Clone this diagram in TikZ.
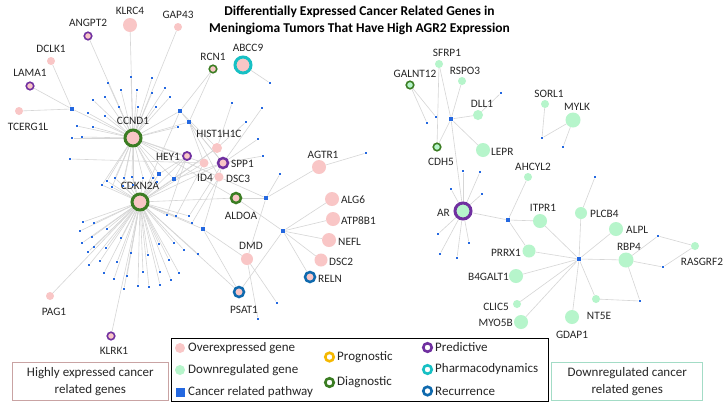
\documentclass[tikz,border=0pt]{standalone}
\usepackage{fontspec}
\setmainfont{Carlito}
\usetikzlibrary{backgrounds}
\definecolor{pinkc}{HTML}{F9C6C6}
\definecolor{greenc}{HTML}{B6F5CB}
\definecolor{bluec}{HTML}{2468E0}
\definecolor{ringg}{HTML}{3B7D23}
\definecolor{ringp}{HTML}{7030A0}
\definecolor{ringc}{HTML}{17C0C4}
\definecolor{ringb}{HTML}{0F6AAE}
\definecolor{ringy}{HTML}{F5B800}
\definecolor{edgec}{HTML}{D6D6D6}
\definecolor{txt}{HTML}{262626}
\definecolor{lboxc}{HTML}{C9A3A3}
\definecolor{rboxc}{HTML}{A3DCC6}
\begin{document}
\begin{tikzpicture}[x=1pt,y=-1pt,
  pk/.style={circle,fill=pinkc,inner sep=0pt,minimum size=#1},
  gn/.style={circle,fill=greenc,inner sep=0pt,minimum size=#1},
  rg/.style={draw=#1},
  bigring/.style={line width=3pt,minimum size=16pt},
  midring/.style={line width=2.5pt,minimum size=10pt},
  smallring/.style={line width=1.6pt,minimum size=7.5pt},
  dt/.style={rectangle,fill=bluec,inner sep=0pt,minimum size=2.8pt},
  hb/.style={rectangle,fill=bluec,inner sep=0pt,minimum size=4.6pt},
  lab/.style={font=\fontsize{11.3}{13}\selectfont,text=txt,inner sep=0pt},
  leg/.style={font=\fontsize{13}{15}\selectfont,text=txt,inner sep=0pt,anchor=west},
  edge/.style={draw=edgec,line width=0.6pt},
]
\useasboundingbox (0,0) rectangle (727,405);

% title
\node[font=\bfseries\fontsize{13.5}{17}\selectfont,align=center,text=black] (title) at (359.5,20.5)
  {Differentially Expressed Cancer Related Genes in\\Meningioma Tumors That Have High AGR2 Expression};

% ---------------- left cluster genes
\node[pk=16pt,rg=ringg,bigring] (ccnd1) at (133,138) {};
\node[lab] (lccnd1) at (133,121) {CCND1};
\node[pk=16pt,rg=ringg,bigring] (cdkn2a) at (140,202) {};
\node[lab] (lcdkn2a) at (140,186) {CDKN2A};
\node[pk=14pt] (klrc4) at (130,25) {};
\node[lab] (lklrc4) at (130,11) {KLRC4};
\node[pk=8pt] (gap43) at (178,27) {};
\node[lab] (lgap43) at (178,15) {GAP43};
\node[pk=7.5pt,rg=ringp,smallring] (angpt2) at (88,36) {};
\node[lab] (langpt2) at (88,23) {ANGPT2};
\node[pk=8pt] (dclk1) at (51,61) {};
\node[lab] (ldclk1) at (51,49) {DCLK1};
\node[pk=7.5pt,rg=ringp,smallring] (lama1) at (30,86) {};
\node[lab] (llama1) at (30,73) {LAMA1};
\node[pk=8pt] (tcerg1l) at (19,111) {};
\node[lab] (ltcerg1l) at (28,127) {TCERG1L};
\node[pk=7.5pt,rg=ringg,smallring] (rcn1) at (213,69) {};
\node[lab] (lrcn1) at (213,57) {RCN1};
\node[pk=16pt,rg=ringc,bigring] (abcc9) at (243,65) {};
\node[lab] (labcc9) at (248,48) {ABCC9};
\node[pk=10pt] (hist) at (217,148) {};
\node[lab] (lhist) at (219,134) {HIST1H1C};
\node[pk=8pt,rg=ringp,line width=1.8pt] (hey1) at (187,156) {};
\node[lab,anchor=east] (lhey1) at (180,157) {HEY1};
\node[pk=9pt] (id4) at (204,163) {};
\node[lab] (lid4) at (205,178) {ID4};
\node[pk=10pt,rg=ringp,midring] (spp1) at (223,163) {};
\node[lab,anchor=west] (lspp1) at (231,164) {SPP1};
\node[pk=9pt] (dsc3) at (219,177) {};
\node[lab,anchor=west] (ldsc3) at (226,179) {DSC3};
\node[pk=10pt,rg=ringg,midring] (aldoa) at (236,198) {};
\node[lab] (laldoa) at (241,216) {ALDOA};
\node[pk=14pt] (agtr1) at (319,167) {};
\node[lab] (lagtr1) at (323,155) {AGTR1};
\node[pk=14pt] (alg6) at (332,199) {};
\node[lab,anchor=west] (lalg6) at (341,200) {ALG6};
\node[pk=14pt] (atp8b1) at (333,219) {};
\node[lab,anchor=west] (latp8b1) at (341,221) {ATP8B1};
\node[pk=14pt] (nefl) at (329,240) {};
\node[lab,anchor=west] (lnefl) at (338,242) {NEFL};
\node[pk=13pt] (dsc2) at (321,260) {};
\node[lab,anchor=west] (ldsc2) at (329,262) {DSC2};
\node[pk=10pt,rg=ringb,midring] (reln) at (310,277) {};
\node[lab,anchor=west] (lreln) at (318,279) {RELN};
\node[pk=12pt] (dmd) at (247,259) {};
\node[lab] (ldmd) at (251,246) {DMD};
\node[pk=10pt,rg=ringb,midring] (psat1) at (239,292) {};
\node[lab] (lpsat1) at (244,310) {PSAT1};
\node[pk=8pt] (pag1) at (50,296) {};
\node[lab] (lpag1) at (54,312) {PAG1};
\node[pk=7.5pt,rg=ringp,smallring] (klrk1) at (111,336) {};
\node[lab] (lklrk1) at (114,351) {KLRK1};

% hubs left
\node[hb] (hA) at (72,109) {};
\node[hb] (hB) at (180,111) {};
\node[hb] (hC) at (189,122) {};
\node[hb] (hD) at (174,179) {};
\node[hb] (hE) at (159,174) {};
\node[hb] (hF) at (203,229) {};
\node[hb] (hG) at (266,198) {};
\node[hb] (hH) at (283,231) {};

% small pathway dots left
\foreach \x/\y [count=\i] in {131/77,152/78,108/83,121/90,137/90,165/88,152/93,105/97,93/100,170/97,138/107,119/107,156/107,88/113,105/116,77/126,93/127,178/127,72/138,82/137}
  \node[dt] (c\i) at (\x,\y) {};
\foreach \x/\y [count=\i] in {102/185,107/181,115/178,124/178,132/177,143/178,153/178,157/182,112/187,123/186,133/185}
  \node[dt] (m\i) at (\x,\y) {};
\foreach \x/\y [count=\i] in {83/222,94/223,80/231,107/229,92/237,121/238,82/243,94/247,106/248,88/252,131/253,148/255,159/244,174/243,184/250,198/254,100/261,117/262,169/260,89/265,104/273,114/279,127/276,124/289,138/286,143/272,149/287,160/285,160/272,171/280,179/273}
  \node[dt] (k\i) at (\x,\y) {};
\node[dt] (u1) at (167,215) {};
\node[dt] (u2) at (176,216) {};
\node[dt] (u3) at (189,216) {};
\node[dt] (u4) at (192,223) {};
\node[dt] (x1) at (70,159) {};
\node[dt] (s1) at (232,103) {};
\node[dt] (s2) at (262,108) {};
\node[dt] (s3) at (246,122) {};
\node[dt] (s4) at (258,139) {};
\node[dt] (s5) at (263,156) {};
\node[dt] (s6) at (280,174) {};
\node[dt] (s7) at (270,83) {};
\node[dt] (s8) at (366,153) {};
\node[dt] (d1) at (277,303) {};
\node[dt] (d2) at (258,319) {};

% ---------------- right cluster genes
\node[gn=8pt] (sfrp1) at (439,64) {};
\node[lab] (lsfrp1) at (447,53) {SFRP1};
\node[gn=8pt] (rspo3) at (462,81) {};
\node[lab] (lrspo3) at (465,71) {RSPO3};
\node[gn=7.5pt,rg=ringg,smallring] (galnt12) at (410,85) {};
\node[lab] (lgalnt12) at (415,74) {GALNT12};
\node[gn=10pt] (dll1) at (478,115) {};
\node[lab] (ldll1) at (482,104) {DLL1};
\node[gn=7.5pt,rg=ringg,smallring] (cdh5) at (437,147) {};
\node[lab] (lcdh5) at (441,162) {CDH5};
\node[gn=14pt] (lepr) at (483,150) {};
\node[lab,anchor=west] (llepr) at (491,152) {LEPR};
\node[gn=8pt] (sorl1) at (545,104) {};
\node[lab] (lsorl1) at (549,94) {SORL1};
\node[gn=15pt] (mylk) at (573,120) {};
\node[lab] (lmylk) at (577,107) {MYLK};
\node[gn=8pt] (ahcyl2) at (528,177) {};
\node[lab] (lahcyl2) at (533,167) {AHCYL2};
\node[gn=15pt,rg=ringp,bigring] (ar) at (463,211) {};
\node[lab,anchor=east] (lar) at (450,213) {AR};
\node[gn=14pt] (itpr1) at (540,221) {};
\node[lab] (litpr1) at (543,208) {ITPR1};
\node[gn=12pt] (plcb4) at (581,213) {};
\node[lab,anchor=west] (lplcb4) at (590,214) {PLCB4};
\node[gn=14pt] (alpl) at (616,229) {};
\node[lab,anchor=west] (lalpl) at (626,230) {ALPL};
\node[gn=15pt] (rbp4) at (626,260) {};
\node[lab] (lrbp4) at (629,247) {RBP4};
\node[gn=8pt] (rasgrf2) at (695,246) {};
\node[lab] (lrasgrf2) at (702,262) {RASGRF2};
\node[gn=13pt] (prrx1) at (529,251) {};
\node[lab,anchor=east] (lprrx1) at (521,253) {PRRX1};
\node[gn=14pt] (b4galt1) at (516,276) {};
\node[lab,anchor=east] (lb4galt1) at (509,277) {B4GALT1};
\node[gn=8pt] (clic5) at (517,304) {};
\node[lab,anchor=east] (lclic5) at (509,307) {CLIC5};
\node[gn=14pt] (myo5b) at (521,322) {};
\node[lab,anchor=east] (lmyo5b) at (513,323) {MYO5B};
\node[gn=14pt] (gdap1) at (572,317) {};
\node[lab] (lgdap1) at (572,335) {GDAP1};
\node[gn=8pt] (nt5e) at (596,299) {};
\node[lab] (lnt5e) at (599,316) {NT5E};

\node[hb] (r1) at (451,119) {};
\node[hb] (r2) at (508,220) {};
\node[hb] (r3) at (579,259) {};
\foreach \x/\y [count=\i] in {463/171,480/172,451/189,482/194,438/234,469/243,440/254,457/258}
  \node[dt] (a\i) at (\x,\y) {};
\node[dt] (g1) at (436,117) {};
\node[dt] (g2) at (427,123) {};
\node[dt] (g3) at (501,93) {};
\node[dt] (g4) at (542,138) {};
\node[dt] (g5) at (563,147) {};
\node[dt] (g6) at (595,177) {};
\node[dt] (g7) at (658,236) {};
\node[dt] (g8) at (663,267) {};
\node[dt] (g9) at (640,301) {};

% ---------------- edges
\begin{scope}[on background layer]
\fill[white] (0,0) rectangle (727,405);
\foreach \i in {1,...,20} \draw[edge] (ccnd1) -- (c\i);
\foreach \i in {1,...,11} {\draw[edge] (ccnd1) -- (m\i); \draw[edge] (cdkn2a) -- (m\i);}
\foreach \i in {1,...,31} \draw[edge] (cdkn2a) -- (k\i);
\foreach \i in {1,...,4} \draw[edge] (cdkn2a) -- (u\i);
\draw[edge] (u1) -- (hey1); \draw[edge] (u2) -- (id4); \draw[edge] (u3) -- (spp1); \draw[edge] (u4) -- (dsc3);
\foreach \n in {dclk1,lama1,tcerg1l,ccnd1} \draw[edge] (hA) -- (\n);
\foreach \n in {klrc4,gap43,angpt2} \draw[edge] (ccnd1) -- (\n);
\draw[edge] (rcn1) -- (hB); \draw[edge] (rcn1) -- (hC);
\foreach \n in {ccnd1,spp1,hist,cdkn2a} \draw[edge] (hB) -- (\n);
\foreach \n in {ccnd1,id4,dsc3,spp1} \draw[edge] (hC) -- (\n);
\foreach \n in {ccnd1,cdkn2a,hey1,spp1,hist} \draw[edge] (hD) -- (\n);
\foreach \n in {ccnd1,cdkn2a,hey1} \draw[edge] (hE) -- (\n);
\foreach \n in {cdkn2a,dmd,spp1,psat1} \draw[edge] (hF) -- (\n);
\foreach \n in {aldoa,agtr1,s6,dmd,dsc3} \draw[edge] (hG) -- (\n);
\foreach \n in {alg6,atp8b1,nefl,dsc2,reln,psat1,aldoa} \draw[edge] (hH) -- (\n);
\draw[edge] (agtr1) -- (s8);
\foreach \n in {hey1,id4,aldoa,dsc3} \draw[edge] (ccnd1) -- (\n);
\foreach \n in {hey1,spp1,id4,hist,aldoa,psat1,pag1,klrk1} \draw[edge] (cdkn2a) -- (\n);
\draw[edge] (dmd) -- (d1); \draw[edge] (dmd) -- (d2);
\draw[edge] (x1) -- (id4);
\draw[edge] (s1) -- (hist); \draw[edge] (s3) -- (hist);
\draw[edge] (s2) -- (spp1); \draw[edge] (s4) -- (spp1); \draw[edge] (s5) -- (spp1);
\draw[edge] (s7) -- (abcc9);
% right
\foreach \n in {sfrp1,rspo3,dll1,cdh5,lepr,ar} \draw[edge] (r1) -- (\n);
\draw[edge] (sfrp1) -- (cdh5);
\draw[edge] (galnt12) -- (g1); \draw[edge] (galnt12) -- (g2);
\draw[edge] (dll1) -- (g3);
\draw[edge] (sorl1) -- (g4); \draw[edge] (mylk) -- (g4); \draw[edge] (mylk) -- (g5);
\foreach \i in {1,...,8} \draw[edge] (ar) -- (a\i);
\draw[edge] (ar) -- (r2);
\foreach \n in {ahcyl2,itpr1,prrx1} \draw[edge] (r2) -- (\n);
\foreach \n in {itpr1,plcb4,alpl,rbp4,prrx1,b4galt1,clic5,myo5b,gdap1,nt5e} \draw[edge] (r3) -- (\n);
\draw[edge] (plcb4) -- (g6);
\draw[edge] (rbp4) -- (g7); \draw[edge] (rbp4) -- (g8); \draw[edge] (rbp4) -- (g9);
\draw[edge] (nt5e) -- (g9);
\draw[edge] (rasgrf2) -- (g7); \draw[edge] (rasgrf2) -- (g8);
\end{scope}

% ---------------- legend
\node[draw=black,line width=1pt,fill=white,minimum width=377pt,minimum height=63pt,inner sep=0pt] (legend) at (360.3,370) {};
\node[pk=10pt] (lgpk) at (180,348) {};
\node[leg] (tpk) at (188,348) {Overexpressed gene};
\node[gn=10pt] (lggn) at (180,370) {};
\node[leg] (tgn) at (188,370) {Downregulated gene};
\node[rectangle,fill=bluec,minimum size=9pt,inner sep=0pt] (lgpw) at (180,392) {};
\node[leg] (tpw) at (188,392) {Cancer related pathway};
\node[circle,fill=white,draw=ringy,line width=2.6pt,minimum size=8.5pt,inner sep=0pt] (lgy) at (329.5,357) {};
\node[leg] (ty) at (337,357) {Prognostic};
\node[circle,fill=white,draw=ringg,line width=2.6pt,minimum size=8.5pt,inner sep=0pt] (lgg) at (329.5,382.5) {};
\node[leg] (tg) at (337,382.5) {Diagnostic};
\node[circle,fill=white,draw=ringp,line width=2.6pt,minimum size=8.5pt,inner sep=0pt] (lgp) at (427.5,347.5) {};
\node[leg] (tp) at (435,347.5) {Predictive};
\node[circle,fill=white,draw=ringc,line width=2.6pt,minimum size=8.5pt,inner sep=0pt] (lgc) at (427.5,369.5) {};
\node[leg] (tc) at (435,369.5) {Pharmacodynamics};
\node[circle,fill=white,draw=ringb,line width=2.6pt,minimum size=8.5pt,inner sep=0pt] (lgb) at (427.5,391) {};
\node[leg] (tb) at (435,391) {Recurrence};

% ---------------- side boxes
\node[draw=lboxc,line width=0.8pt,minimum width=156pt,minimum height=37.5pt,inner sep=0pt,align=center,
  font=\fontsize{13}{17}\selectfont,text=txt] (lbox) at (90.3,381.2) {Highly expressed cancer\\related genes};
\node[draw=rboxc,line width=0.8pt,minimum width=151pt,minimum height=37.5pt,inner sep=0pt,align=center,
  font=\fontsize{13}{17}\selectfont,text=txt] (rbox) at (627.2,381.2) {Downregulated cancer\\related genes};
\end{tikzpicture}
\end{document}
